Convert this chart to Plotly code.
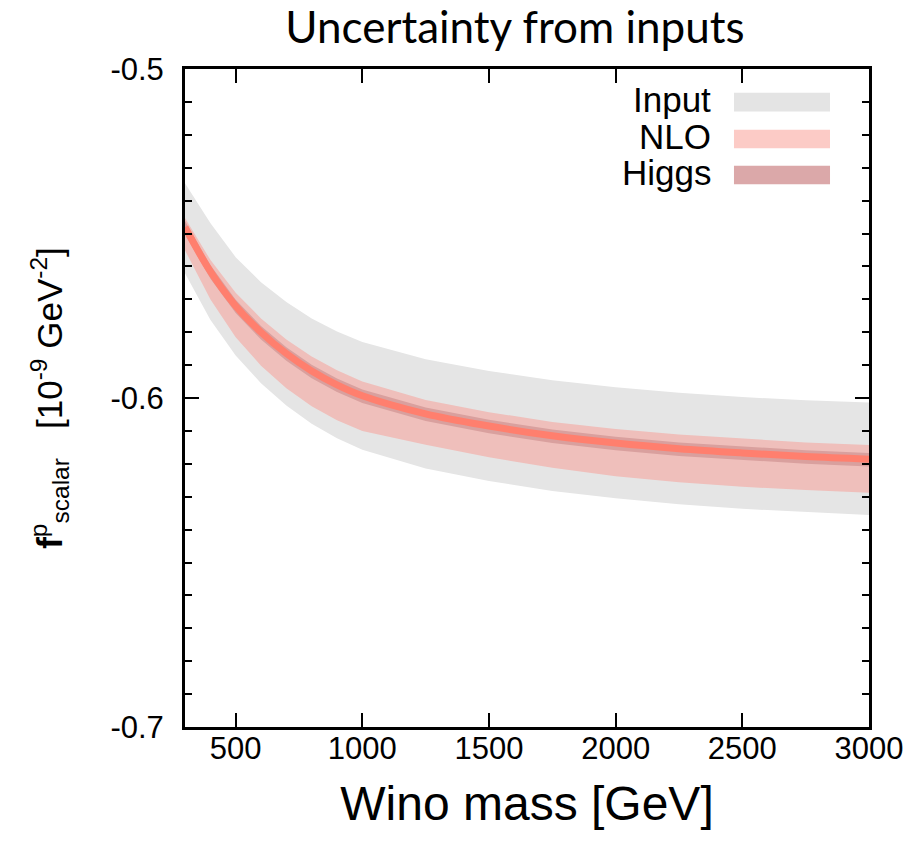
import plotly.graph_objects as go

# Wino mass [GeV]
mass = [300, 400, 500, 600, 700, 800, 900, 1000, 1250, 1500, 1750, 2000, 2250, 2500, 2750, 3000]
# central value f^p_scalar [1e-9 GeV^-2]
central = [-0.5481, -0.5615, -0.5720, -0.5800, -0.5865, -0.5918, -0.5960, -0.5993, -0.6048,
           -0.6085, -0.6115, -0.6137, -0.6154, -0.6167, -0.6178, -0.6186]
# Input uncertainty band
input_hi = [-0.5347, -0.5468, -0.5572, -0.5648, -0.5708, -0.5758, -0.5798, -0.5830, -0.5882,
            -0.5918, -0.5946, -0.5967, -0.5984, -0.5997, -0.6007, -0.6014]
input_lo = [-0.5621, -0.5762, -0.5871, -0.5955, -0.6023, -0.6078, -0.6122, -0.6157, -0.6214,
            -0.6252, -0.6283, -0.6305, -0.6323, -0.6337, -0.6347, -0.6356]
# NLO uncertainty band
nlo_hi = [-0.5453, -0.5580, -0.5680, -0.5758, -0.5822, -0.5874, -0.5916, -0.5950, -0.6006,
          -0.6043, -0.6073, -0.6094, -0.6111, -0.6124, -0.6135, -0.6143]
nlo_lo = [-0.5551, -0.5700, -0.5815, -0.5902, -0.5970, -0.6025, -0.6068, -0.6100, -0.6142,
          -0.6180, -0.6212, -0.6238, -0.6256, -0.6270, -0.6280, -0.6288]
# Higgs uncertainty band
higgs_hi = [c + 0.0019 for c in central]
higgs_lo = [c - 0.0022 for c in central]

legend_labels = ["Input", "NLO", "Higgs"]
legend_colors = ["#E4E4E4", "#FCCBC6", "#DBA8A9"]

x_ticks = [500, 1000, 1500, 2000, 2500, 3000]
y_ticks = [-0.7, -0.6, -0.5]


def band(lo, hi, color):
    return go.Scatter(x=mass + mass[::-1], y=hi + lo[::-1], fill="toself",
                      fillcolor=color, line=dict(width=0), mode="lines",
                      hoverinfo="skip", showlegend=False)


fig = go.Figure()
fig.add_trace(band(input_lo, input_hi, "#E5E5E5"))
fig.add_trace(band(nlo_lo, nlo_hi, "#EFBFBB"))
fig.add_trace(band(higgs_lo, higgs_hi, "#D9A09E"))
fig.add_trace(go.Scatter(x=mass, y=central, mode="lines", line=dict(color="#FF7F6E", width=7, shape="spline"),
                         showlegend=False))

# manual legend (text right of swatch column)
row_y = [0.9498, 0.8936, 0.8389]
for lab, col, yy in zip(legend_labels, legend_colors, row_y):
    fig.add_shape(type="rect", xref="paper", yref="paper", x0=0.8026, x1=0.943,
                  y0=yy - 0.0142, y1=yy + 0.0142, fillcolor=col, line=dict(width=0))
    fig.add_annotation(xref="paper", yref="paper", x=0.772, y=yy + 0.004, text=lab, showarrow=False,
                       xanchor="right", yanchor="middle",
                       font=dict(family="Liberation Sans", size=35, color="black"))

axis_common = dict(showline=True, linewidth=3, linecolor="black", mirror="ticks", ticks="inside",
                   tickwidth=2, tickcolor="black", ticklen=14, showgrid=False, zeroline=False,
                   tickfont=dict(family="Liberation Sans", size=31, color="black"))

fig.update_layout(
    width=922, height=842,
    margin=dict(l=185, r=53, t=69, b=115),
    plot_bgcolor="white", paper_bgcolor="white",
    title=dict(text="Uncertainty from inputs", x=0.5585, xref="container", y=1 - 28 / 842,
               yref="container", xanchor="center", yanchor="middle",
               font=dict(family="Lato", size=44, color="black")),
    xaxis=dict(range=[300, 3000], tickvals=x_ticks, ticktext=[str(v) for v in x_ticks],
               title=dict(text="Wino mass [GeV]", font=dict(family="Liberation Sans", size=48, color="black"),
                          standoff=22),
               ticklabelstandoff=-8, **axis_common),
    yaxis=dict(range=[-0.7, -0.5], tickvals=y_ticks, ticktext=["-0.7", "-0.6", "-0.5"],
               minor=dict(dtick=0.01, tick0=-0.7, ticks="inside", ticklen=7, tickwidth=2, tickcolor="black"),
               title=dict(text="<b>f</b><sup>p</sup><sub>scalar</sub>   [10<sup>-9</sup> GeV<sup>-2</sup>]",
                          font=dict(family="Liberation Sans", size=35, color="black"), standoff=38),
               ticklabelstandoff=12, **axis_common),
)

fig.write_html("out.html")
